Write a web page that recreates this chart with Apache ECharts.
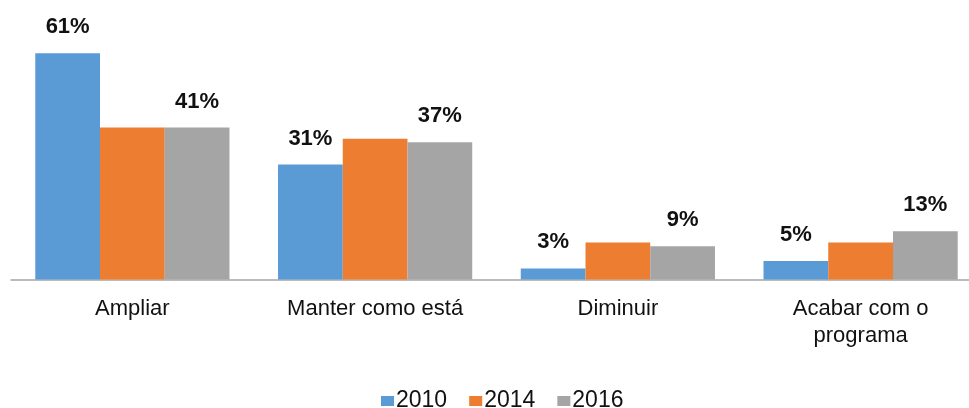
<!DOCTYPE html>
<html>
<head>
<meta charset="utf-8">
<script src="https://cdn.jsdelivr.net/npm/echarts@6/dist/echarts.min.js"></script>
<style>
html, body { margin: 0; padding: 0; background: #fff; }
#chart { width: 969px; height: 408px; }
</style>
</head>
<body>
<div id="chart"></div>
<script>
// categorias e valores (%)
var categories = ['Ampliar', 'Manter como está', 'Diminuir', 'Acabar com o\nprograma'];
var years = ['2010', '2014', '2016'];
var values2010 = [61, 31, 3, 5];
var values2014 = [41, 38, 10, 10];
var values2016 = [41, 37, 9, 13];
var colors = ['#5B9BD5', '#ED7D31', '#A5A5A5'];

var fontName = 'Liberation Sans, Arial, sans-serif';

var labelOn = {
	show: true,
	position: 'top',
	distance: 15,
	formatter: '{c}%',
	color: '#111',
	fontFamily: fontName,
	fontWeight: 'bold',
	fontSize: 22
};

function makeSeries(name, data, color, withLabel) {
	return {
		name: name,
		type: 'bar',
		data: data,
		barGap: '0%',
		barCategoryGap: '20%',
		itemStyle: { color: color },
		label: withLabel ? labelOn : { show: false },
		emphasis: { disabled: true }
	};
}

var option = {
	backgroundColor: '#fff',
	animation: false,
	grid: {
		left: 11,
		width: 971,
		top: 20,
		bottom: 128.5,
		outerBoundsMode: 'none'
	},
	legend: {
		data: years,
		left: 376,
		top: 384,
		itemWidth: 13,
		itemHeight: 10,
		itemGap: 22,
		icon: 'rect',
		textStyle: {
			fontFamily: fontName,
			fontSize: 23,
			color: '#111',
			padding: [0, 0, 0, -3],
			lineHeight: 24
		}
	},
	xAxis: {
		type: 'category',
		data: categories,
		axisLine: { show: true, lineStyle: { color: '#a6a6a6', width: 1.5 } },
		axisTick: { show: false },
		axisLabel: {
			margin: 16,
			interval: 0,
			color: '#111',
			fontFamily: fontName,
			fontSize: 22,
			lineHeight: 27
		}
	},
	yAxis: {
		type: 'value',
		min: 0,
		max: 70,
		show: false,
		splitLine: { show: false }
	},
	series: [
		makeSeries(years[0], values2010, colors[0], true),
		makeSeries(years[1], values2014, colors[1], false),
		makeSeries(years[2], values2016, colors[2], true)
	]
};

var myChart = echarts.init(document.getElementById('chart'));
myChart.setOption(option, true);
</script>
</body>
</html>
